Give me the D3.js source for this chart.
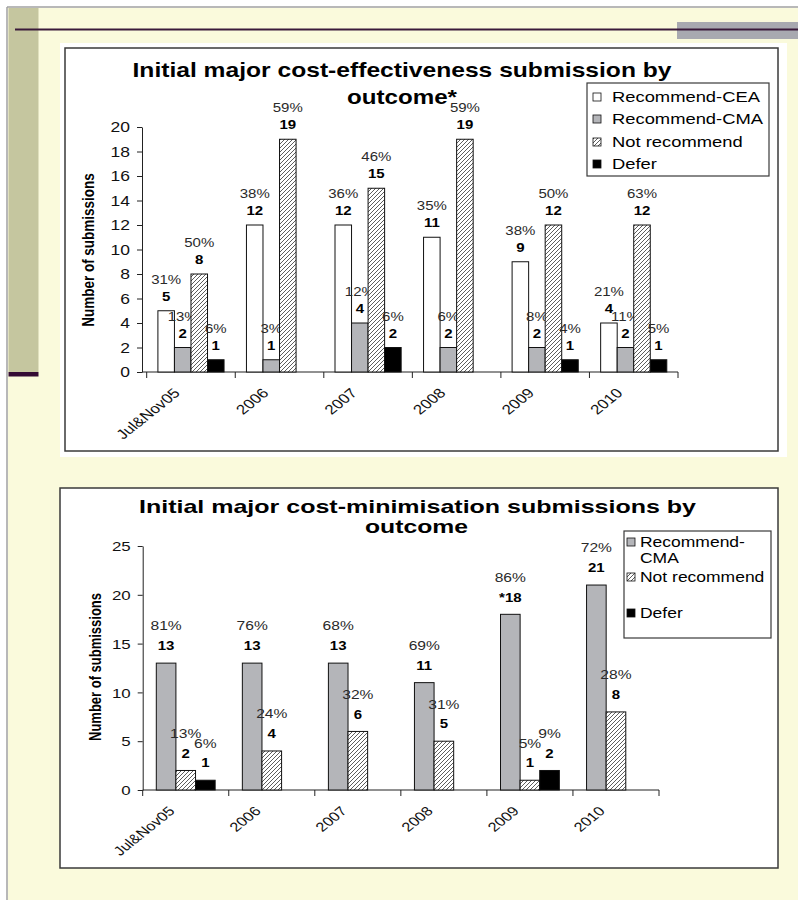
<!DOCTYPE html>
<html>
<head>
<meta charset="utf-8">
<script src="https://cdn.jsdelivr.net/npm/d3@7"></script>
<style>
  body { margin: 0; background: #fff; }
  svg { display: block; font-family: "Liberation Sans", Arial, sans-serif; }
</style>
</head>
<body>
<div id="chart"></div>
<script>
/* Two grouped bar charts: cost-effectiveness and cost-minimisation submissions by outcome */

const years = ["Jul&Nov05", "2006", "2007", "2008", "2009", "2010"];

// top chart: cost-effectiveness
const ceaSeries = ["Recommend-CEA", "Recommend-CMA", "Not recommend", "Defer"];
const ceaRecCEA = [5, 12, 12, 11, 9, 4];
const ceaRecCMA = [2, 1, 4, 2, 2, 2];
const ceaNotRec = [8, 19, 15, 19, 12, 12];
const ceaDefer = [1, 0, 2, 0, 1, 1];
const ceaPctCEA = ["31%", "38%", "36%", "35%", "38%", "21%"];
const ceaPctCMA = ["13%", "3%", "12%", "6%", "8%", "11%"];
const ceaPctNot = ["50%", "59%", "46%", "59%", "50%", "63%"];
const ceaPctDefer = ["6%", "", "6%", "", "4%", "5%"];
const ceaTicks = [0, 2, 4, 6, 8, 10, 12, 14, 16, 18, 20];

// bottom chart: cost-minimisation
const cmaSeries = ["Recommend-CMA", "Not recommend", "Defer"];
const cmaRecCMA = [13, 13, 13, 11, 18, 21];
const cmaNotRec = [2, 4, 6, 5, 1, 8];
const cmaDefer = [1, 0, 0, 0, 2, 0];
const cmaLabelCMA = ["13", "13", "13", "11", "*18", "21"];
const cmaPctCMA = ["81%", "76%", "68%", "69%", "86%", "72%"];
const cmaPctNot = ["13%", "24%", "32%", "31%", "5%", "28%"];
const cmaPctDefer = ["6%", "", "", "", "9%", ""];
const cmaTicks = [0, 5, 10, 15, 20, 25];

const W = 798, H = 900;
const K = 1.25; // the slide is stretched sideways, text too

const svg = d3.select("#chart").append("svg")
  .attr("width", W)
  .attr("height", H);

const defs = svg.append("defs");
const hatch = defs.append("pattern")
  .attr("id", "hatch")
  .attr("patternUnits", "userSpaceOnUse")
  .attr("width", 4)
  .attr("height", 4);
hatch.append("rect").attr("width", 4).attr("height", 4).attr("fill", "#fff");
hatch.append("path")
  .attr("d", "M-1,1 l2,-2 M0,4 l4,-4 M3,5 l2,-2")
  .attr("stroke", "#333")
  .attr("stroke-width", 0.8);

const fills = {
  "Recommend-CEA": "#fff",
  "Recommend-CMA": "#b4b5b9",
  "Not recommend": "url(#hatch)",
  "Defer": "#000"
};

// Slide background
svg.append("rect").attr("x", 8).attr("y", 8).attr("width", W - 8).attr("height", H - 8).attr("fill", "#fafadc");
svg.append("line").attr("x1", 7).attr("x2", W).attr("y1", 7).attr("y2", 7).attr("stroke", "#a0a0a0").attr("stroke-width", 1.5);
svg.append("line").attr("x1", 7).attr("x2", 7).attr("y1", 7).attr("y2", H).attr("stroke", "#a0a0a0").attr("stroke-width", 1.5);
svg.append("rect").attr("x", 8.5).attr("y", 8).attr("width", 30).attr("height", 364).attr("fill", "#c5c69f");
svg.append("rect").attr("x", 8.5).attr("y", 372).attr("width", 30).attr("height", 4.5).attr("fill", "#330a33");
svg.append("rect").attr("x", 677).attr("y", 22).attr("width", W - 677).attr("height", 17).attr("fill", "#a8a9b0");
svg.append("rect").attr("x", 15).attr("y", 28.5).attr("width", W - 15).attr("height", 2).attr("fill", "#3a1a3a");

function put(g, x, y, str, o = {}) {
  return g.append("text")
    .attr("transform", `translate(${x},${y}) scale(${o.k || K},1)` + (o.rot ? ` rotate(${o.rot})` : ""))
    .attr("text-anchor", o.anchor || "middle")
    .attr("dy", o.dy == null ? "0.35em" : o.dy)
    .attr("font-size", o.size || 12)
    .attr("font-weight", o.bold ? "bold" : null)
    .attr("fill", o.fill || "#000")
    .text(str);
}

function title(g, x, y, str, size, width) {
  g.append("text")
    .attr("x", x)
    .attr("y", y)
    .attr("dy", "0.35em")
    .attr("text-anchor", "middle")
    .attr("font-size", size)
    .attr("font-weight", "bold")
    .attr("textLength", width)
    .attr("lengthAdjust", "spacingAndGlyphs")
    .text(str);
}

function drawChart(c) {
  const g = svg.append("g");

  g.append("rect")
    .attr("x", c.box[0]).attr("y", c.box[1])
    .attr("width", c.box[2] - c.box[0]).attr("height", c.box[3] - c.box[1])
    .attr("fill", "#fff").attr("stroke", "#3a3a3a").attr("stroke-width", 1.5);

  const x = d3.scaleBand().domain(years).range(c.xRange);
  const x1 = d3.scaleBand().domain(c.series).range([c.groupPad, x.bandwidth() - c.groupPad]);
  const y = d3.scaleLinear().domain([0, c.yMax]).range(c.yRange);

  // y axis
  const ya = g.append("g")
    .attr("transform", `translate(${c.yAxisX},0)`)
    .call(d3.axisLeft(y).tickValues(c.ticks).tickSize(5).tickSizeOuter(0).tickPadding(0));
  ya.select(".domain").attr("stroke", "#222");
  ya.selectAll(".tick line").attr("stroke", "#222");
  ya.selectAll(".tick text").remove();
  ya.selectAll(".tick").each(function (d) {
    put(d3.select(this), -12, 0, d, { anchor: "end", size: c.tickSize, fill: "#111" });
  });

  // x axis, ticks sit between the groups
  g.append("line")
    .attr("x1", c.yAxisX).attr("x2", c.xRange[1])
    .attr("y1", y(0)).attr("y2", y(0))
    .attr("stroke", "#222");
  const bounds = years.map(d => x(d)).concat([c.xRange[1]]);
  g.selectAll(".xt").data(bounds).join("line")
    .attr("x1", d => d).attr("x2", d => d)
    .attr("y1", y(0)).attr("y2", y(0) + 6)
    .attr("stroke", "#222");
  years.forEach(d => {
    put(g, x(d) + x.bandwidth() / 2 - 10, y(0) + c.xLabelDy, d,
      { anchor: "end", size: c.xLabelSize, rot: -45, dy: 0, fill: "#111" });
  });

  // y title
  g.append("text")
    .attr("transform", `translate(${c.yTitle[0]},${c.yTitle[1]}) scale(${K},1) rotate(-90)`)
    .attr("text-anchor", "middle")
    .attr("dy", "0.35em")
    .attr("font-size", c.yTitleSize)
    .attr("font-weight", "bold")
    .text("Number of submissions");

  // bars and labels
  c.series.forEach((s, si) => {
    const vals = c.values[si];
    const rows = years.map((yr, i) => ({ yr, v: vals[i], lab: c.labels[si][i], pct: c.pcts[si][i] }))
      .filter(d => d.v > 0);
    g.selectAll(null).data(rows).join("rect")
      .attr("x", d => x(d.yr) + x1(s))
      .attr("y", d => y(d.v))
      .attr("width", x1.bandwidth())
      .attr("height", d => y(0) - y(d.v))
      .attr("fill", fills[s])
      .attr("stroke", "#111")
      .attr("stroke-width", 1);
    rows.forEach(d => {
      const cx = x(d.yr) + x1(s) + x1.bandwidth() / 2;
      put(g, cx, y(d.v) + c.countDy, d.lab, { size: c.countSize, bold: true });
      if (d.pct) put(g, cx, y(d.v) + c.pctDy, d.pct, { size: c.pctSize, fill: "#2a2a2a" });
    });
  });

  // legend
  const lg = g.append("g");
  lg.append("rect")
    .attr("x", c.legend.box[0]).attr("y", c.legend.box[1])
    .attr("width", c.legend.box[2] - c.legend.box[0]).attr("height", c.legend.box[3] - c.legend.box[1])
    .attr("fill", "#fff").attr("stroke", "#3a3a3a").attr("stroke-width", 1.2);
  c.series.forEach((s, si) => {
    const ry = c.legend.rows[si];
    lg.append("rect")
      .attr("x", c.legend.sx).attr("y", ry - 4)
      .attr("width", 8).attr("height", 8)
      .attr("fill", fills[s]).attr("stroke", "#111").attr("stroke-width", 0.8);
    c.legend.text[si].forEach((ln, li) => {
      put(lg, c.legend.tx, ry + li * c.legend.lineGap, ln, { anchor: "start", size: c.legend.size });
    });
  });

  c.titles.forEach(t => title(g, t[0], t[1], t[2], c.titleSize, t[3]));
}

// white panel behind the first chart
svg.append("rect").attr("x", 60).attr("y", 43).attr("width", 727).attr("height", 414).attr("fill", "#fff");

drawChart({
  box: [65, 48, 778, 451],
  series: ceaSeries,
  values: [ceaRecCEA, ceaRecCMA, ceaNotRec, ceaDefer],
  labels: [ceaRecCEA, ceaRecCMA, ceaNotRec, ceaDefer].map(a => a.map(String)),
  pcts: [ceaPctCEA, ceaPctCMA, ceaPctNot, ceaPctDefer],
  xRange: [146.7, 678],
  groupPad: 11.2,
  yAxisX: 142,
  yMax: 20,
  yRange: [372, 127],
  ticks: ceaTicks,
  tickSize: 14,
  xLabelSize: 13.5,
  xLabelDy: 22,
  yTitle: [88, 250],
  yTitleSize: 13.5,
  countDy: -14,
  pctDy: -31,
  countSize: 12,
  pctSize: 12,
  titleSize: 21,
  titles: [[402, 70, "Initial major cost-effectiveness submission by", 539], [402, 97, "outcome*", 110]],
  legend: {
    box: [587, 83, 769, 176],
    rows: [97, 119, 142, 164],
    sx: 593, tx: 612, size: 14.7, lineGap: 0,
    text: [["Recommend-CEA"], ["Recommend-CMA"], ["Not recommend"], ["Defer"]]
  }
});

drawChart({
  box: [60, 488, 778, 868],
  series: cmaSeries,
  values: [cmaRecCMA, cmaNotRec, cmaDefer],
  labels: [cmaLabelCMA, cmaNotRec.map(String), cmaDefer.map(String)],
  pcts: [cmaPctCMA, cmaPctNot, cmaPctDefer],
  xRange: [142.7, 659],
  groupPad: 13.6,
  yAxisX: 142.7,
  yMax: 25,
  yRange: [790, 546],
  ticks: cmaTicks,
  tickSize: 13.5,
  xLabelSize: 13,
  xLabelDy: 22,
  yTitle: [95, 667],
  yTitleSize: 13,
  countDy: -17,
  pctDy: -37,
  countSize: 12,
  pctSize: 12.5,
  titleSize: 18.5,
  titles: [[417.5, 507, "Initial major cost-minimisation submissions by", 557], [416.5, 527, "outcome", 103]],
  legend: {
    box: [624, 531, 771, 638],
    rows: [542, 577, 613],
    sx: 627, tx: 640, size: 14, lineGap: 16,
    text: [["Recommend-", "CMA"], ["Not recommend"], ["Defer"]]
  }
});
</script>
</body>
</html>
